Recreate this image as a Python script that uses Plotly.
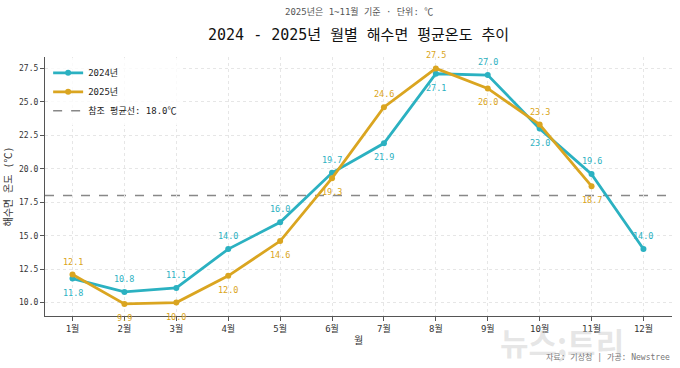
import plotly.graph_objects as go

months = ["1월", "2월", "3월", "4월", "5월", "6월", "7월", "8월", "9월", "10월", "11월", "12월"]
month_num = list(range(1, 13))
temp_2024 = [11.8, 10.8, 11.1, 14.0, 16.0, 19.7, 21.9, 27.1, 27.0, 23.0, 19.6, 14.0]
temp_2025 = [12.1, 9.9, 10.0, 12.0, 14.6, 19.3, 24.6, 27.5, 26.0, 23.3, 18.7]
ref_mean = 18.0
y_ticks = [10.0, 12.5, 15.0, 17.5, 20.0, 22.5, 25.0, 27.5]

C24 = "#2BB1C1"
C25 = "#DAA520"
FONT = "DejaVu Sans Mono, Noto Sans CJK KR, monospace"

def label_annotations(xs, vals, other, color):
    out = []
    for i, v in enumerate(vals):
        above = True if i >= len(other) else v >= other[i]
        out.append(dict(
            x=xs[i], y=v, xref="x", yref="y", text=f"{v:.1f}", showarrow=False,
            xanchor="center", yanchor="middle", yshift=13 if above else -14,
            font=dict(color=color, size=8.5, family=FONT),
        ))
    return out

fig = go.Figure()
fig.add_trace(go.Scatter(
    x=month_num, y=temp_2024, mode="lines+markers", name="2024년",
    line=dict(color=C24, width=2.8), marker=dict(size=6, color=C24),
))
fig.add_trace(go.Scatter(
    x=month_num[:len(temp_2025)], y=temp_2025, mode="lines+markers", name="2025년",
    line=dict(color=C25, width=2.8), marker=dict(size=6, color=C25),
))
fig.add_trace(go.Scatter(
    x=[None], y=[None], mode="lines", name=f"참조 평균선: {ref_mean:.1f}℃",
    line=dict(color="#888888", width=1.6, dash="dash"),
))
fig.add_shape(type="line", xref="paper", x0=0, x1=1, yref="y", y0=ref_mean, y1=ref_mean,
              line=dict(color="#888888", width=1.6, dash="dash"), layer="below")

annots = []
annots += label_annotations(month_num, temp_2024, temp_2025, C24)
annots += label_annotations(month_num[:len(temp_2025)], temp_2025, temp_2024, C25)
annots += [
    dict(text="2025년은 1~11월 기준 · 단위: ℃", xref="paper", yref="paper",
         x=0.5, y=1.0, xanchor="center", yanchor="middle", showarrow=False,
         font=dict(size=9, color="#555555"), yshift=57 - 11),
    dict(text="2024 - 2025년 월별 해수면 평균온도 추이", xref="paper", yref="paper",
         x=0.5, y=1.0, xanchor="center", yanchor="middle", showarrow=False,
         font=dict(size=15, color="#111111"), yshift=57 - 35),
    dict(text="<b>뉴스;트리</b>", xref="paper", yref="paper", x=0.927, y=0.0,
         xanchor="right", yanchor="middle", showarrow=False,
         font=dict(size=31, color="rgba(200,200,200,0.45)", family="Noto Sans CJK KR"), yshift=-25),
    dict(text="자료: 기상청 | 가공: Newstree", xref="paper", yref="paper", x=1.0, y=0.0,
         xanchor="right", yanchor="middle", showarrow=False,
         font=dict(size=8, color="#777777"), yshift=-41),
]

fig.update_layout(
    width=680, height=368,
    margin=dict(l=40, r=8, t=57, b=52),
    paper_bgcolor="white", plot_bgcolor="white",
    font=dict(family=FONT, size=9, color="#333333"),
    showlegend=True,
    legend=dict(x=0.005, y=0.995, xanchor="left", yanchor="top", bgcolor="rgba(255,255,255,0.8)",
                font=dict(size=9, color="#222222"), itemwidth=30, tracegroupgap=0),
    xaxis=dict(
        range=[0.47, 12.55], tickmode="array", tickvals=month_num, ticktext=months,
        showgrid=True, gridcolor="#e6e6e6", griddash="dot", gridwidth=1,
        showline=True, linecolor="#555555", linewidth=1.2, ticks="outside", ticklen=4,
        tickcolor="#555555", zeroline=False,
        title=dict(text="월", font=dict(size=10), standoff=4),
    ),
    yaxis=dict(
        range=[9.0, 28.35], tickmode="array", tickvals=y_ticks,
        ticktext=[f"{v:.1f}" for v in y_ticks],
        showgrid=True, gridcolor="#e6e6e6", griddash="dot", gridwidth=1,
        showline=True, linecolor="#555555", linewidth=1.2, ticks="outside", ticklen=4,
        tickcolor="#555555", zeroline=False, tickfont=dict(size=8),
        title=dict(text="해수면 온도 (℃)", font=dict(size=10), standoff=4),
    ),
    annotations=annots,
)

fig.write_html("out.html", config={"displayModeBar": False},
               post_script="document.body.style.margin='0';document.body.style.overflow='hidden';")
